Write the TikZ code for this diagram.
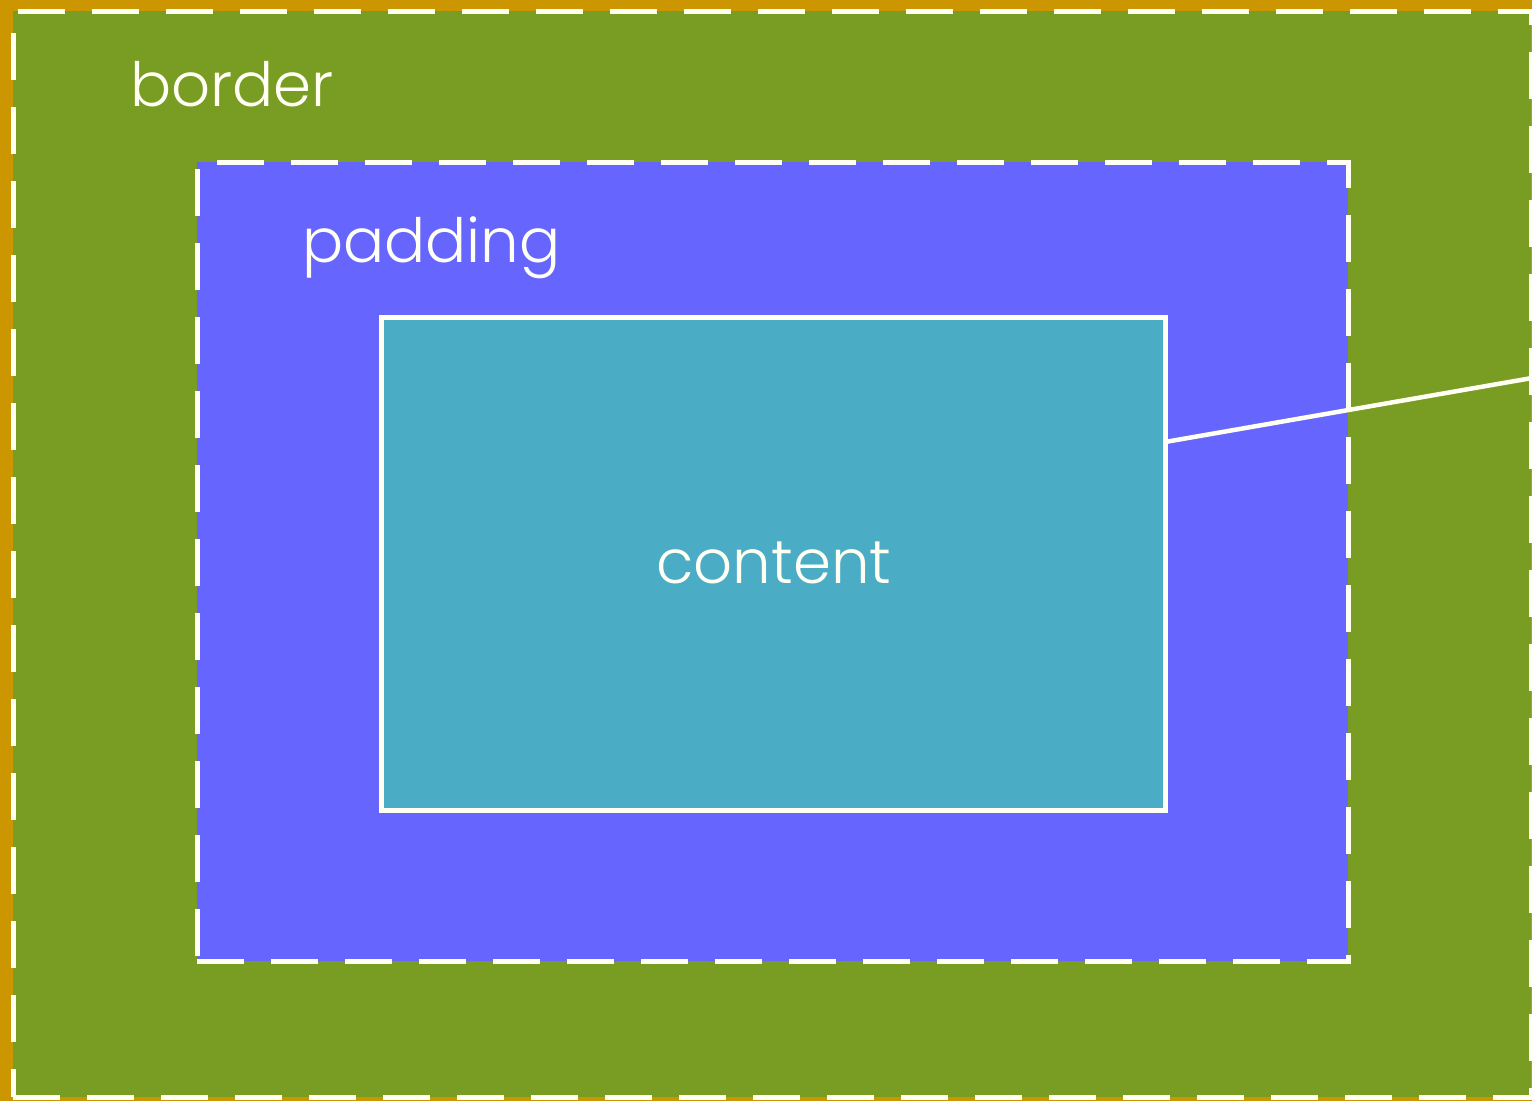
\documentclass[tikz,border=0pt]{standalone}
\usepackage{fontspec}
\setmainfont{Poppins}[UprightFont=* Light]
\definecolor{gold}{RGB}{204,150,0}
\definecolor{olivegreen}{RGB}{121,156,34}
\definecolor{padblue}{RGB}{102,102,255}
\definecolor{contentblue}{RGB}{75,172,198}
\definecolor{cream}{RGB}{255,255,244}
\tikzset{
  box/.style={rectangle, inner sep=0pt, outer sep=0pt, draw=cream, line width=5pt, anchor=north west},
  dashbox/.style={box, dash pattern=on 47pt off 27pt},
  lbl/.style={text=cream, font=\fontsize{61}{73}\selectfont, inner sep=0pt, outer sep=0pt}
}
\begin{document}
\begin{tikzpicture}[x=1pt,y=-1pt]
\useasboundingbox (0,0) rectangle (1532,1101);
\fill[gold] (0,0) rectangle (1532,1101);
\node[dashbox, fill=olivegreen, minimum width=1518pt, minimum height=1086pt] (border) at (13,11) {};
\node[dashbox, fill=padblue, minimum width=1151pt, minimum height=799pt] (padding) at (197,162) {};
\node[box, fill=contentblue, minimum width=784pt, minimum height=493pt] (content) at (381,317) {};
\node[lbl, anchor=base west] (borderlbl) at (130,106) {border};
\node[lbl, anchor=base west] (paddinglbl) at (302,262) {padding};
\node[lbl, anchor=base] (contentlbl) at (774,583) {content};
\coordinate (ls) at (1165,442);
\coordinate (lineend) at (1532,378);
\draw[cream, line width=4.5pt] (content.east |- ls) -- (lineend);
\end{tikzpicture}
\end{document}
